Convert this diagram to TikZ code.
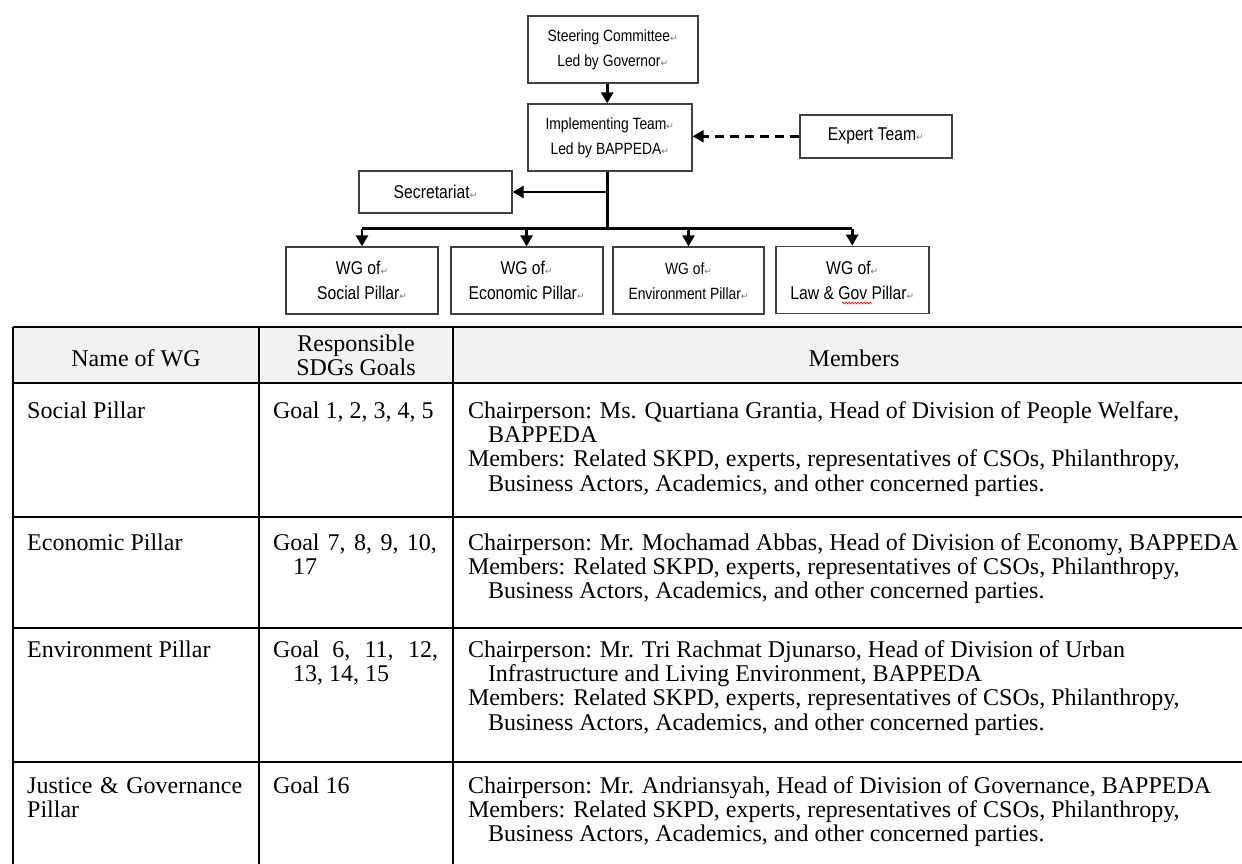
\documentclass[tikz,border=0pt]{standalone}
\usepackage{fontspec}
\setmainfont{Liberation Serif}
\newfontfamily\chartfont[FakeStretch=0.85]{Liberation Sans}
\newfontfamily\markfont{DejaVu Sans}
\usetikzlibrary{arrows.meta,calc,decorations.pathmorphing}
\definecolor{hdrgray}{HTML}{F2F2F2}
\newcommand{\pmk}{{\markfont\fontsize{9}{9}\selectfont\textcolor{black!55}{\char"21B5}}}
\newcommand{\wgmembers}{Members: Related SKPD, experts, representatives of CSOs, Philanthropy,\\
  \hspace*{20pt}Business Actors, Academics, and other concerned parties.}
\tikzset{
  orgbox/.style = {draw=black!75, line width=1.8pt, rectangle, inner sep=0pt,
                   align=center, font=\chartfont\fontsize{18.5}{25}\selectfont},
  smalltxt/.style = {font=\chartfont\fontsize{16.3}{25}\selectfont},
  flow/.style   = {-{Triangle[length=11pt,width=12pt]}, line width=2.6pt},
  link/.style   = {line width=2.6pt},
  rule/.style   = {line width=1.8pt, black},
  cell/.style   = {inner sep=0pt, anchor=base west, align=left,
                   font=\fontsize{24}{24.4}\selectfont},
}

\begin{document}
\begin{tikzpicture}[x=1pt,y=-1pt]
\clip (0,0) rectangle (1242,864);
\fill[white] (0,0) rectangle (1242,864);

% organisation chart
\node[orgbox,smalltxt,minimum width=170pt,minimum height=66.7pt] (steer) at (612.7,49.3)
  {Steering Committee\pmk\\Led by Governor\pmk};
\node[orgbox,smalltxt,minimum width=164pt,minimum height=66.4pt] (impl) at (609.8,137.5)
  {Implementing Team\pmk\\Led by BAPPEDA\pmk};
\node[orgbox,minimum width=151.6pt,minimum height=42.7pt] (expert) at (875.8,136.3)
  {Expert Team\pmk};
\node[orgbox,minimum width=152.4pt,minimum height=42.6pt] (secr) at (435.5,192)
  {Secretariat\pmk};
\coordinate (hub) at (607.2,228.7);

\node[orgbox,minimum width=152.4pt,minimum height=67pt] (wg1) at (362,280.8)
  {WG of\pmk\\Social Pillar\pmk};
\node[orgbox,minimum width=152pt,minimum height=67pt] (wg2) at (526.6,280.8)
  {WG of\pmk\\Economic Pillar\pmk};
\node[orgbox,smalltxt,minimum width=151.5pt,minimum height=67pt] (wg3) at (688.5,280.8)
  {WG of\pmk\\Environment Pillar\pmk};
\node[orgbox,minimum width=153pt,minimum height=67pt] (wg4) at (852.2,280)
  {WG of\pmk\\Law \& Gov Pillar\pmk};
\draw[red,line width=0.7pt,decorate,decoration={snake,amplitude=0.9pt,segment length=3pt}]
  ($(wg4.center)+(-10,23)$) -- ($(wg4.center)+(20,23)$);

\draw[flow] (steer.south -| hub) -- (impl.north -| hub);
\draw[flow,dash pattern=on 9pt off 6pt] (expert.west) -- (expert.west -| impl.east);
\draw[link] (impl.south -| hub) -- (hub);
\draw[flow] (secr.east -| hub) -- (secr.east);
\draw[link] (wg1.north |- hub) -- (wg4.north |- hub);
\foreach \g in {wg1,wg2,wg3,wg4}
  \draw[flow] (\g.north |- hub) -- (\g.north);

% table (multi-line cells are placed by their last baseline)
\fill[hdrgray] (12.7,327) rectangle (1250,383.3);
\foreach \yy in {327,383.3,516.7,628.3,761.7}
  \draw[rule] (12.7,\yy) -- (1250,\yy);
\foreach \xx in {12.7,259.3,452.7}
  \draw[rule] (\xx,327) -- (\xx,870);

\node[cell,anchor=base] (hname) at (136,366) {Name of WG};
\node[cell,anchor=center,align=center] (hgoal) at (356,355)
  {Responsible\\SDGs Goals};
\node[cell,anchor=base] (hmem) at (854,366) {Members};

\node[cell] (n1) at (27,418) {Social Pillar};
\node[cell] (g1) at (272.8,418) {Goal 1, 2, 3, 4, 5};
\node[cell] (m1) at (467.8,491.2)
  {Chairperson: Ms. Quartiana Grantia, Head of Division of People Welfare,\\
   \hspace*{20pt}BAPPEDA\\ \wgmembers};

\node[cell] (n2) at (27,550) {Economic Pillar};
\node[cell] (g2) at (272.8,574.4) {\makebox[164pt][s]{Goal 7, 8, 9, 10,}\\\hspace*{20pt}17};
\node[cell] (m2) at (467.8,598.8)
  {Chairperson: Mr. Mochamad Abbas, Head of Division of Economy, BAPPEDA\\ \wgmembers};

\node[cell] (n3) at (27,657) {Environment Pillar};
\node[cell] (g3) at (272.8,681.4) {\makebox[165pt][s]{Goal 6, 11, 12,}\\\hspace*{20pt}13, 14, 15};
\node[cell] (m3) at (467.8,730.2)
  {Chairperson: Mr. Tri Rachmat Djunarso, Head of Division of Urban\\
   \hspace*{20pt}Infrastructure and Living Environment, BAPPEDA\\ \wgmembers};

\node[cell] (n4) at (27,817.4) {\makebox[215pt][s]{Justice \& Governance}\\Pillar};
\node[cell] (g4) at (272.8,793) {Goal 16};
\node[cell] (m4) at (467.8,841.8)
  {Chairperson: Mr. Andriansyah, Head of Division of Governance, BAPPEDA\\ \wgmembers};
\end{tikzpicture}
\end{document}
